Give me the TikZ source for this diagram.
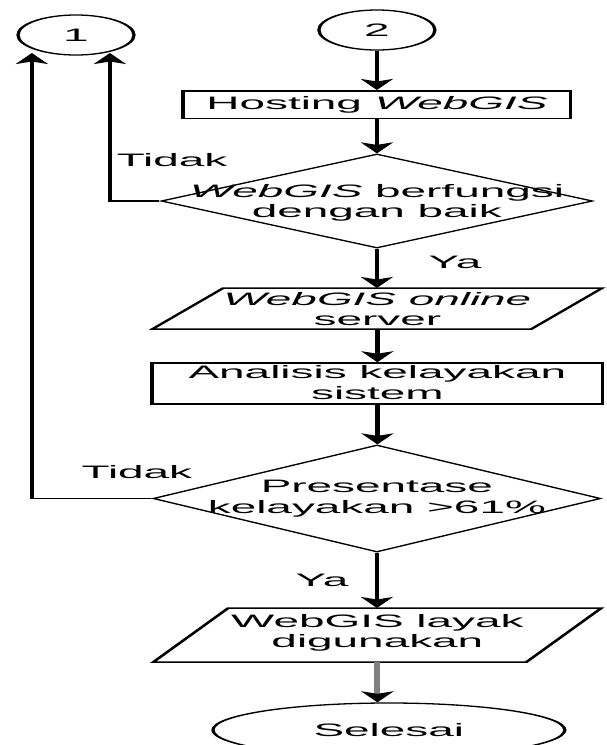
\documentclass[tikz,border=0pt]{standalone}
\usepackage{fontspec}
\setmainfont{Liberation Sans}
\usetikzlibrary{arrows.meta,shapes.geometric}
\begin{document}
\begin{tikzpicture}[x=1pt,y=-1pt,
  txt/.style={font=\fontsize{18}{20.5}\selectfont, align=center, inner sep=0pt},
  shp/.style={draw, line width=1.5pt, inner sep=0pt},
  dia/.style={draw, diamond, line width=1.2pt, inner sep=0pt},
  ell/.style={draw, ellipse, line width=1.3pt, inner sep=0pt},
  ghost/.style={inner sep=0pt, outer sep=0pt},
  tip/.style={-{Stealth[length=11pt,width=12.5pt,inset=2.5pt,color=black]}},
  arr/.style={tip, line width=1.7pt},
  garr/.style={tip, line width=2.4pt, draw=black!50}
]
\useasboundingbox (0,0) rectangle (606,745);
\clip (0,0) rectangle (606,745);
\begin{scope}[transform canvas={xscale=2.55}]
  % connectors
  \node[ell, minimum width=45.5pt, minimum height=40pt, txt] (c1) at (29.8,35) {1};
  \node[ell, minimum width=45.5pt, minimum height=40pt, txt] (c2) at (147.8,30) {2};
  \node[shp, rectangle, minimum width=151.8pt, minimum height=27.5pt] (h) at (147.8,104.5) {};
  \node[txt] (ht) at (h.center) {Hosting \textit{WebGIS}};
  % decision 1
  \node[dia, minimum width=169.4pt, minimum height=94pt] (d1) at (147.8,201) {};
  \node[txt] (d1t) at (147.8,203) {\textit{WebGIS} berfungsi\\dengan baik};
  % parallelogram 1
  \node[ghost, minimum width=148.6pt, minimum height=41pt] (p1) at (148,308.5) {};
  \draw[shp] ([xshift=13.9pt]p1.north west) -- ([xshift=13.9pt]p1.north east)
     -- ([xshift=-13.9pt]p1.south east) -- ([xshift=-13.9pt]p1.south west) -- cycle;
  \node[txt] (p1t) at (148,309) {\textit{WebGIS online}\\server};
  % analysis box
  \node[shp, rectangle, minimum width=176.5pt, minimum height=41pt] (a) at (148,383.5) {};
  \node[txt] (at) at (148,382.5) {Analisis kelayakan\\sistem};
  % decision 2
  \node[dia, minimum width=175.7pt, minimum height=107pt] (d2) at (147.8,498.5) {};
  \node[txt] (d2t) at (147.8,498.5) {Presentase\\kelayakan >61\%};
  % parallelogram 2
  \node[ghost, minimum width=146.3pt, minimum height=54pt] (p2) at (148,635) {};
  \draw[shp] ([xshift=14.7pt]p2.north west) -- ([xshift=14.7pt]p2.north east)
     -- ([xshift=-14.7pt]p2.south east) -- ([xshift=-14.7pt]p2.south west) -- cycle;
  \node[txt] (p2t) at (148,633) {WebGIS layak\\digunakan};
  % end
  \node[ell, minimum width=138pt, minimum height=54pt, txt] (e) at (152.5,730) {Selesai};

  % arrow targets on connector 1
  \coordinate (t1) at (43.1,53);
  \coordinate (t2) at (12.5,53);

  % arrows
  \draw[arr] (c2) -- (h);
  \draw[arr] (h) -- (d1);
  \draw[arr] (d1.south) -- (d1.south |- p1.north);
  \draw[arr] (p1.south) -- (p1.south |- a.north);
  \draw[arr] (a.south) -- (a.south |- d2.north);
  \draw[arr] (d2.south) -- (d2.south |- p2.north);
  \draw[garr] (p2.south) -- (p2.south |- e.north);
  \draw[arr] (d1.west) -| (t1);
  \draw[arr] (d2.west) -| (t2);

  % labels
  \node[txt] (l1) at (67.5,160) {Tidak};
  \node[txt] (l2) at (53.7,472) {Tidak};
  \node[txt] (l3) at (178.4,262) {Ya};
  \node[txt] (l4) at (126.3,580) {Ya};
\end{scope}
\end{tikzpicture}
\end{document}
